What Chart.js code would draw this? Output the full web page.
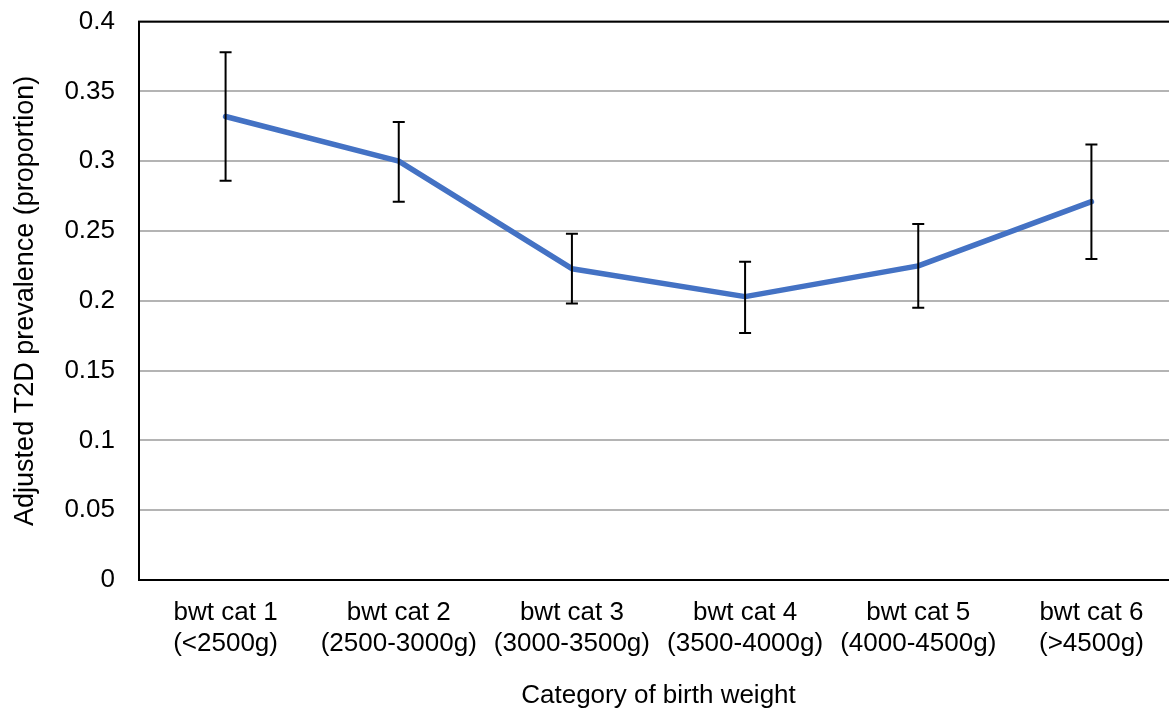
<!DOCTYPE html>
<html>
<head>
<meta charset="utf-8">
<script src="https://cdn.jsdelivr.net/npm/chart.js@4/dist/chart.umd.min.js"></script>
<style>
  html, body { margin: 0; padding: 0; background: #fff; overflow: hidden; }
  #wrap { width: 1178px; height: 729px; position: relative; top: -18px; }
</style>
</head>
<body>
<div id="wrap"><canvas id="chart"></canvas></div>
<script>
// Birth-weight categories (two-line labels)
const categories = [
  ['bwt cat 1', '(<2500g)'],
  ['bwt cat 2', '(2500-3000g)'],
  ['bwt cat 3', '(3000-3500g)'],
  ['bwt cat 4', '(3500-4000g)'],
  ['bwt cat 5', '(4000-4500g)'],
  ['bwt cat 6', '(>4500g)']
];
// Adjusted prevalence and its confidence limits
const prevalence = [0.332, 0.300, 0.223, 0.203, 0.225, 0.271];
const lowerCI    = [0.286, 0.271, 0.198, 0.177, 0.195, 0.230];
const upperCI    = [0.378, 0.328, 0.248, 0.228, 0.255, 0.312];
// Y tick labels, bottom to top
const yTickLabels = ['0', '0.05', '0.1', '0.15', '0.2', '0.25', '0.3', '0.35', '0.4'];

const FONT = { family: 'Liberation Sans, Arial, sans-serif', size: 26 };

// Error bars drawn from the CI arrays through the y scale
const errorBars = {
  id: 'errorBars',
  afterDatasetsDraw(chart) {
    const { ctx, scales: { x, y } } = chart;
    ctx.save();
    ctx.strokeStyle = '#000';
    ctx.lineWidth = 2;
    const cap = 6;
    prevalence.forEach((_, i) => {
      const px = x.getPixelForValue(i);
      const yl = y.getPixelForValue(lowerCI[i]);
      const yu = y.getPixelForValue(upperCI[i]);
      ctx.beginPath();
      ctx.moveTo(px, yl); ctx.lineTo(px, yu);
      ctx.moveTo(px - cap, yu); ctx.lineTo(px + cap, yu);
      ctx.moveTo(px - cap, yl); ctx.lineTo(px + cap, yl);
      ctx.stroke();
    });
    ctx.restore();
  }
};

// Frame around the plot area
const frame = {
  id: 'frame',
  afterDraw(chart) {
    const { ctx, chartArea: a } = chart;
    ctx.save();
    ctx.strokeStyle = '#000';
    ctx.lineWidth = 2;
    ctx.strokeRect(a.left, a.top, a.right - a.left, a.bottom - a.top);
    ctx.restore();
  }
};

new Chart(document.getElementById('chart'), {
  type: 'line',
  data: {
    labels: categories,
    datasets: [{
      data: prevalence,
      borderColor: '#4472C4',
      borderWidth: 5.5,
      pointRadius: 0,
      tension: 0,
      fill: false,
      borderCapStyle: 'round',
      borderJoinStyle: 'round'
    }]
  },
  options: {
    responsive: true,
    maintainAspectRatio: false,
    animation: false,
    layout: { padding: { top: 7, right: 0, left: 0, bottom: 0 } },
    plugins: { legend: { display: false }, tooltip: { enabled: false } },
    scales: {
      x: {
        offset: true,
        grid: { display: false, drawTicks: false },
        border: { display: true, color: '#000', width: 2 },
        ticks: { color: '#000', font: { ...FONT, lineHeight: 1.2 }, padding: 17, maxRotation: 0, autoSkip: false },
        title: { display: true, text: 'Category of birth weight', color: '#000', font: FONT, padding: { top: 19, bottom: 0 } },
        afterFit(s) { s.height = 131; }
      },
      y: {
        min: 0, max: 0.4,
        ticks: {
          stepSize: 0.05, color: '#000', font: FONT, padding: 24,
          callback: (v, i) => yTickLabels[i]
        },
        grid: { color: '#b4b4b4', lineWidth: 2, drawTicks: false },
        border: { display: true, color: '#000', width: 2 },
        title: { display: true, text: 'Adjusted T2D prevalence (proportion)', color: '#000', font: { ...FONT, size: 27 }, padding: { top: 9, bottom: 0 } },
        afterFit(s) { s.width = 139; }
      }
    }
  },
  plugins: [errorBars, frame]
});
</script>
</body>
</html>
